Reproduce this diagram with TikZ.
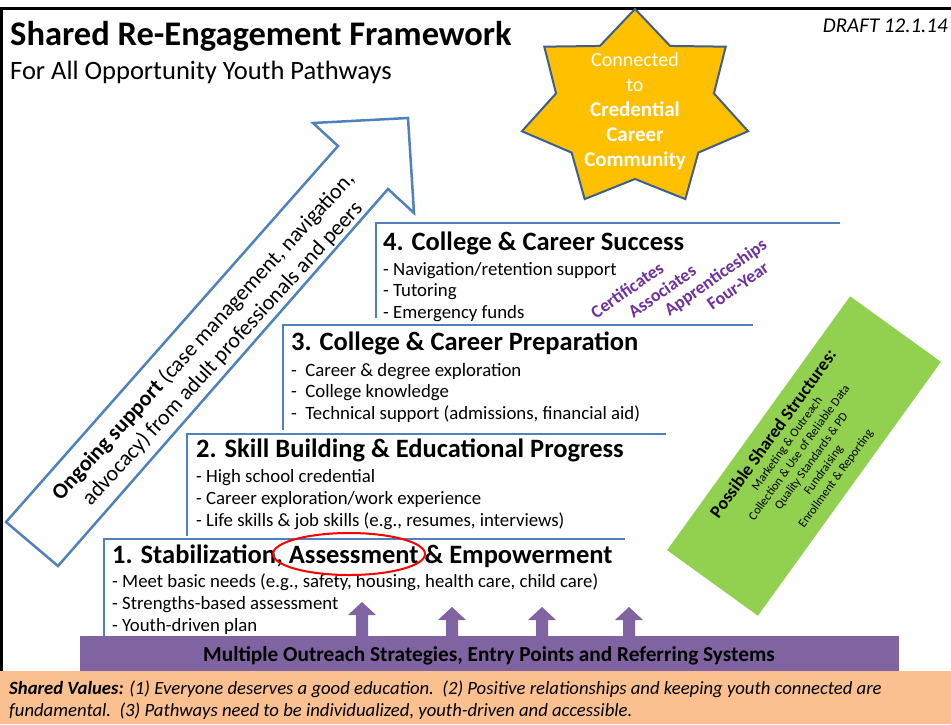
\documentclass[tikz,border=0pt]{standalone}
\usepackage{fontspec}
\setmainfont{Carlito}

\definecolor{stepblue}{HTML}{4F81BD}
\definecolor{stargold}{HTML}{FFC000}
\definecolor{staredge}{HTML}{3F5F88}
\definecolor{outreachpurple}{HTML}{8064A2}
\definecolor{degreepurple}{HTML}{7030A0}
\definecolor{structgreen}{HTML}{92D050}
\definecolor{valuesorange}{HTML}{FAC090}

\tikzset{
  stepline/.style={draw=stepblue, line width=2},
  steptitle/.style={anchor=base west, inner sep=0, font=\bfseries\fontsize{26.5}{30}\selectfont},
  stepitem/.style={anchor=base west, inner sep=0, font=\fontsize{18.8}{22}\selectfont},
  degree/.style={rotate=35, inner sep=0, text=degreepurple, font=\bfseries\fontsize{18}{22}\selectfont},
}

\begin{document}
\begin{tikzpicture}[x=1pt,y=-1pt]
  \useasboundingbox (0,0) rectangle (951,724);
  % frame
  \draw[line width=3] (0,8) -- (951,8);
  \draw[line width=3] (1.5,8) -- (1.5,671);

  \node[anchor=base west, inner sep=0, font=\bfseries\fontsize{34.5}{40}\selectfont] (title) at (10,45) {Shared Re-Engagement Framework};
  \node[anchor=base west, inner sep=0, font=\fontsize{26.5}{30}\selectfont] (subtitle) at (10,79) {For All Opportunity Youth Pathways};
  \node[anchor=base east, inner sep=0, font=\itshape\fontsize{21}{24}\selectfont] (draft) at (948,32) {DRAFT 12.1.14};

  % star
  \begin{scope}[shift={(635,109)}]
    \filldraw[fill=stargold, draw=staredge, line width=2, line join=miter]
      (90:116pt and 100pt)
      \foreach \k [evaluate=\k as \rx using {mod(\k,2)==0 ? 116 : 81},
                   evaluate=\k as \ry using {mod(\k,2)==0 ? 100 : 70}] in {1,...,13}
        { -- ({90+\k*360/14}:{\rx pt} and {\ry pt}) } -- cycle;
  \end{scope}
  \node[align=center, text=white, font=\fontsize{20}{25}\selectfont] (startext) at (635,111)
    {Connected\\to\\{\bfseries\fontsize{21}{25}\selectfont Credential}\\{\bfseries\fontsize{21}{25}\selectfont Career}\\{\bfseries\fontsize{21}{25}\selectfont Community}};

  % ongoing support arrow
  \draw[draw=stepblue, line width=2.5, line join=miter]
    (6,522) -- (338,146) -- (313,123) -- (408,118) -- (414,213) -- (388,189) -- (58,566) -- cycle;
  \node[rotate=47.5, align=center, font=\fontsize{22}{26}\selectfont] (support) at (213,345)
    {\textbf{Ongoing support} (case management, navigation,\\advocacy) from adult professionals and peers};

  % steps
  \draw[stepline] (376,318) -- (376,223) -- (840,223);
  \draw[stepline] (283,430) -- (283,325) -- (753,325);
  \draw[stepline] (187,536) -- (187,434) -- (666,434);
  \draw[stepline] (104,640) -- (104,539) -- (625,539);

  \node[steptitle] (step4) at (383,250) {4. College \& Career Success};
  \foreach \txt [count=\n from 0] in {- Navigation/retention support, - Tutoring, - Emergency funds}
    \node[stepitem] (step4item\n) at (383,{275+21.6*\n}) {\txt};

  \node[steptitle] (step3) at (291,350) {3. College \& Career Preparation};
  \foreach \txt [count=\n from 0] in {-~ Career \& degree exploration, -~ College knowledge,
      {-~ Technical support (admissions, financial aid)}}
    \node[stepitem] (step3item\n) at (291,{376+21.6*\n}) {\txt};

  \node[steptitle] (step2) at (196,457) {2. Skill Building \& Educational Progress};
  \foreach \txt [count=\n from 0] in {- High school credential, - Career exploration/work experience,
      {- Life skills \& job skills (e.g., resumes, interviews)}}
    \node[stepitem] (step2item\n) at (196,{482+22*\n}) {\txt};

  \node[steptitle] (step1) at (112,563) {1. Stabilization, Assessment \& Empowerment};
  \foreach \txt [count=\n from 0] in {{- Meet basic needs (e.g., safety, housing, health care, child care)},
      - Strengths-based assessment, - Youth-driven plan}
    \node[stepitem] (step1item\n) at (112,{587+22*\n}) {\txt};
  \draw[red, line width=2] (349,554) ellipse [x radius=76, y radius=21];

  % degrees
  \node[degree] (certificates) at (627,290) {Certificates};
  \node[degree] (associates) at (662,291) {Associates};
  \node[degree] (apprentice) at (716,278) {Apprenticeships};
  \node[degree] (fouryear) at (738,286) {Four-Year};

  % shared structures
  \node[fill=structgreen, rotate=54.2, minimum width=313, minimum height=112, inner sep=0,
        align=center, font=\fontsize{12.3}{15}\selectfont] (structures) at (804,456)
    {{\bfseries\fontsize{18}{20}\selectfont Possible Shared Structures:}\\
     Marketing \& Outreach\\Collection \& Use of Reliable Data\\Quality Standards \& PD\\
     Fundraising\\Enrollment \& Reporting};

  % outreach bar
  \fill[outreachpurple] (80,636) rectangle (899,671);
  \foreach \x/\t in {362/602, 452/607, 542/607, 629/607}
    \fill[outreachpurple] (\x-6,637) -- (\x-6,\t+13) -- (\x-14,\t+13) -- (\x,\t)
      -- (\x+14,\t+13) -- (\x+6,\t+13) -- (\x+6,637) -- cycle;
  \node[anchor=base, inner sep=0, font=\bfseries\fontsize{21.3}{24}\selectfont] (outreach) at (489,661)
    {Multiple Outreach Strategies, Entry Points and Referring Systems};

  % shared values
  \fill[valuesorange] (0,671) rectangle (951,724);
  \node[anchor=base west, inner sep=0, font=\itshape\fontsize{18.7}{22}\selectfont] (values1) at (9,694)
    {\textbf{Shared Values:} (1) Everyone deserves a good education.\ \ (2) Positive relationships and keeping youth connected are};
  \node[anchor=base west, inner sep=0, font=\itshape\fontsize{18.7}{22}\selectfont] (values2) at (9,716)
    {fundamental.\ \ (3) Pathways need to be individualized, youth-driven and accessible.};
\end{tikzpicture}
\end{document}
